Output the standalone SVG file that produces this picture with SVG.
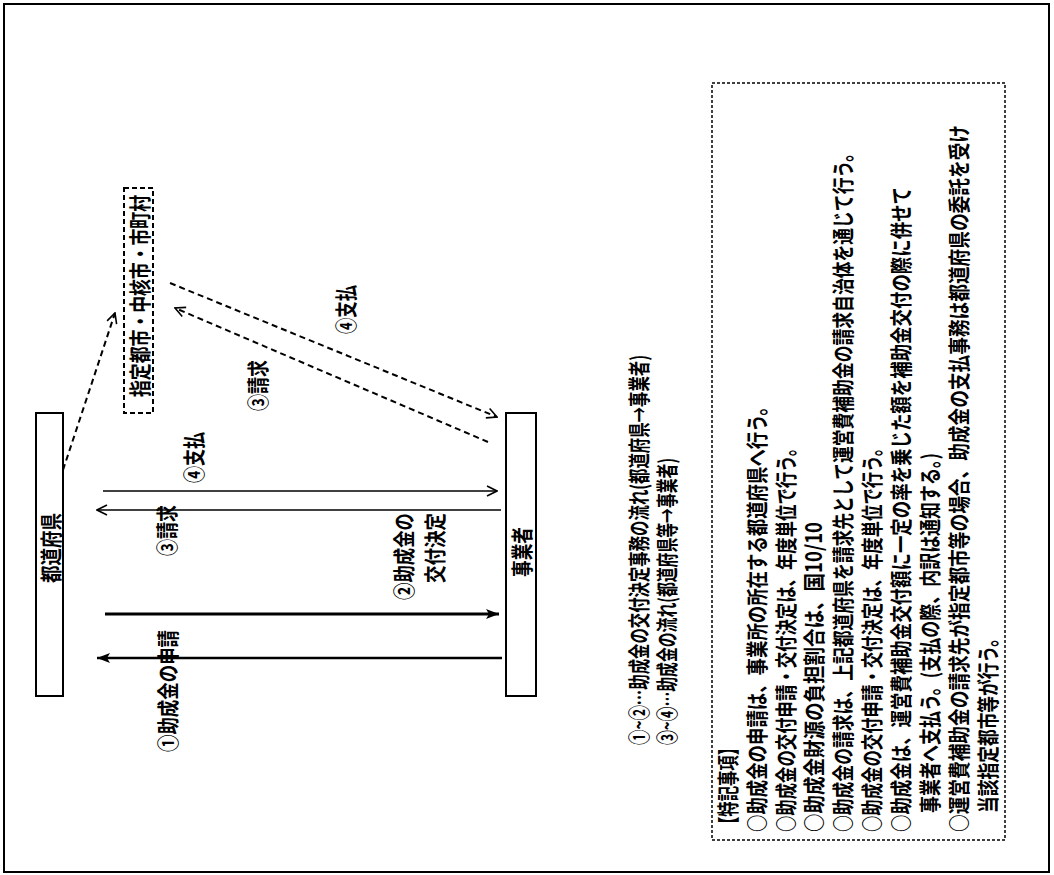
<svg xmlns="http://www.w3.org/2000/svg" width="1054" height="875" viewBox="0 0 1054 875">
<style>
.t{font-family:"Noto Sans CJK JP","Noto Sans CJK SC",sans-serif;font-size:22px;font-weight:bold;fill:#000;dominant-baseline:central}
.box{fill:#fff;stroke:#000;stroke-width:2}
.dbox{fill:none;stroke:#000;stroke-width:2;stroke-dasharray:5 3}
.nbox{fill:none;stroke:#000;stroke-width:1.5;stroke-dasharray:3 2}
.ln{stroke:#000;fill:none}
.dl{stroke:#000;fill:none;stroke-width:2;stroke-dasharray:6 4}
</style>
<defs>
<marker id="open" viewBox="0 0 12 12" refX="11" refY="6" markerWidth="12" markerHeight="12" markerUnits="userSpaceOnUse" orient="auto">
<path d="M1,1 L11,6 L1,11" fill="none" stroke="#000" stroke-width="1.6"/>
</marker>
<marker id="fill" viewBox="0 0 14 12" refX="13" refY="6" markerWidth="14" markerHeight="12" markerUnits="userSpaceOnUse" orient="auto">
<path d="M0,1 L13,6 L0,11 L3,6 Z" fill="#000"/>
</marker>
</defs>
<rect width="1054" height="875" fill="#fff"/>
<rect x="4" y="4" width="1045" height="868" fill="none" stroke="#000" stroke-width="2"/>

<g id="connectors">
<line class="ln" x1="103" y1="491" x2="497" y2="491" stroke-width="1.5" marker-end="url(#open)"/>
<line class="ln" x1="501" y1="510" x2="97" y2="510" stroke-width="1.5" marker-end="url(#open)"/>
<line class="ln" x1="105" y1="614" x2="499" y2="614" stroke-width="3" marker-end="url(#fill)"/>
<line class="ln" x1="502" y1="658" x2="97" y2="658" stroke-width="2.5" marker-end="url(#fill)"/>
<line class="dl" x1="63" y1="470" x2="115" y2="313" marker-end="url(#open)"/>
<line class="dl" x1="488" y1="442" x2="175" y2="308" marker-end="url(#open)"/>
<line class="dl" x1="170" y1="283" x2="497" y2="417" marker-end="url(#open)"/>
</g>

<g id="labels">
<text class="t" transform="translate(167,752) rotate(-90) scale(0.78,1)" textLength="156.4" lengthAdjust="spacingAndGlyphs">①助成金の申請</text>
<text class="t" transform="translate(166,556) rotate(-90) scale(0.78,1)" textLength="65.4" lengthAdjust="spacingAndGlyphs">③請求</text>
<text class="t" transform="translate(193,483) rotate(-90) scale(0.78,1)" textLength="65.4" lengthAdjust="spacingAndGlyphs">④支払</text>
<text class="t" transform="translate(403,600) rotate(-90) scale(0.78,1)" textLength="111.5" lengthAdjust="spacingAndGlyphs">②助成金の</text>
<text class="t" transform="translate(434,583) rotate(-90) scale(0.78,1)" textLength="89.7" lengthAdjust="spacingAndGlyphs">交付決定</text>
<text class="t" transform="translate(257,411) rotate(-90) scale(0.78,1)" textLength="65.4" lengthAdjust="spacingAndGlyphs">③請求</text>
<text class="t" transform="translate(345,334) rotate(-90) scale(0.78,1)" textLength="62.8" lengthAdjust="spacingAndGlyphs">④支払</text>
</g>

<g id="node-todoufuken">
<rect class="box" x="36" y="413" width="27" height="283"/>
<text class="t" transform="translate(50,583) rotate(-90) scale(0.78,1)" textLength="89.7" lengthAdjust="spacingAndGlyphs">都道府県</text>
</g>

<g id="node-shitei">
<rect class="dbox" x="124" y="188" width="29" height="225"/>
<text class="t" transform="translate(138.5,397) rotate(-90) scale(0.78,1)" textLength="259" lengthAdjust="spacingAndGlyphs">指定都市・中核市・市町村</text>
</g>

<g id="node-jigyousha">
<rect class="box" x="506" y="413" width="30" height="283"/>
<text class="t" transform="translate(521,577) rotate(-90) scale(0.78,1)" textLength="64.1" lengthAdjust="spacingAndGlyphs">事業者</text>
</g>

<g id="legend">
<text class="t" transform="translate(638,745) rotate(-90) scale(0.78,1)" textLength="500" lengthAdjust="spacingAndGlyphs">①~②…助成金の交付決定事務の流れ(都道府県→事業者)</text>
<text class="t" transform="translate(666,745) rotate(-90) scale(0.78,1)" textLength="368" lengthAdjust="spacingAndGlyphs">③~④…助成金の流れ(都道府県等→事業者)</text>
</g>

<g id="notes">
<rect class="nbox" x="712" y="83" width="293" height="757"/>
<text class="t" transform="translate(727,832) rotate(-90) scale(0.78,1)" textLength="118" lengthAdjust="spacingAndGlyphs">【特記事項】</text>
<text class="t" transform="translate(756,832) rotate(-90) scale(0.78,1)" textLength="556.4" lengthAdjust="spacingAndGlyphs">○助成金の申請は、事業所の所在する都道府県へ行う。</text>
<text class="t" transform="translate(785,832) rotate(-90) scale(0.78,1)" textLength="502.6" lengthAdjust="spacingAndGlyphs">○助成金の交付申請・交付決定は、年度単位で行う。</text>
<text class="t" transform="translate(813,832) rotate(-90) scale(0.78,1)" textLength="397.4" lengthAdjust="spacingAndGlyphs">○助成金財源の負担割合は、国10/10</text>
<text class="t" transform="translate(842,832) rotate(-90) scale(0.78,1)" textLength="880.8" lengthAdjust="spacingAndGlyphs">○助成金の請求は、上記都道府県を請求先として運営費補助金の請求自治体を通じて行う。</text>
<text class="t" transform="translate(871,832) rotate(-90) scale(0.78,1)" textLength="502.6" lengthAdjust="spacingAndGlyphs">○助成金の交付申請・交付決定は、年度単位で行う。</text>
<text class="t" transform="translate(900,832) rotate(-90) scale(0.78,1)" textLength="826.9" lengthAdjust="spacingAndGlyphs">○助成金は、運営費補助金交付額に一定の率を乗じた額を補助金交付の際に併せて</text>
<text class="t" transform="translate(929,813) rotate(-90) scale(0.78,1)" textLength="461.5" lengthAdjust="spacingAndGlyphs">事業者へ支払う。(支払の際、内訳は通知する。)</text>
<text class="t" transform="translate(958,832) rotate(-90) scale(0.78,1)" textLength="906.4" lengthAdjust="spacingAndGlyphs">○運営費補助金の請求先が指定都市等の場合、助成金の支払事務は都道府県の委託を受け</text>
<text class="t" transform="translate(987,813) rotate(-90) scale(0.78,1)" textLength="234.6" lengthAdjust="spacingAndGlyphs">当該指定都市等が行う。</text>
</g>
</svg>
